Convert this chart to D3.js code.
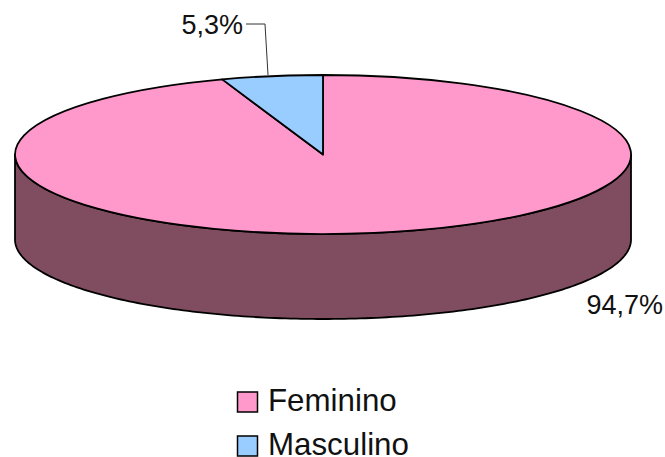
<!DOCTYPE html>
<html><head><meta charset="utf-8">
<script src="https://cdn.jsdelivr.net/npm/d3@7/dist/d3.min.js"></script>
<style>html,body{margin:0;padding:0;background:#fff}svg{display:block}text{font-family:"Liberation Sans",Arial,sans-serif;fill:#111}</style>
</head><body><script>
const categories = ["Feminino", "Masculino"];
const values = [94.7, 5.3];
const valueLabels = ["94,7%", "5,3%"];
const colors = ["#ff99cc", "#99ccff"];
const sideColor = "#804d60";

const W = 665, H = 457;
const cx = 323, cy = 154.5, rx = 308, ry = 79.5, depth = 85;
const svg = d3.select("body").append("svg").attr("width", W).attr("height", H);

const sx = d3.scaleLinear().domain([-1, 1]).range([cx - rx, cx + rx]);
const sy = d3.scaleLinear().domain([-1, 1]).range([cy - ry, cy + ry]);

// rim: the visible lower half of the disc, extruded downward
const rim = d3.range(0, 181, 1).map(d => (90 + d) * Math.PI / 180);
const side = d3.area()
  .x(a => sx(Math.sin(a)))
  .y0(a => sy(-Math.cos(a)))
  .y1(a => sy(-Math.cos(a)) + depth);
svg.append("path").datum(rim).attr("d", side)
  .attr("fill", sideColor).attr("stroke", "#000").attr("stroke-width", 1.8).attr("stroke-linejoin", "round");

const pie = d3.pie().sort(null).value(d => d);
const arc = d3.arc().innerRadius(0).outerRadius(1);
const disc = svg.append("g").attr("transform", `translate(${cx},${cy}) scale(${rx},${ry})`);
disc.selectAll("path").data(pie(values)).join("path")
  .attr("d", arc)
  .attr("fill", (d, i) => colors[i])
  .attr("stroke", "#000").attr("stroke-width", 1.8)
  .attr("stroke-linejoin", "round")
  .attr("vector-effect", "non-scaling-stroke");

// labels
svg.append("text").attr("x", 663).attr("y", 313.5).attr("text-anchor", "end")
  .attr("font-size", 27).text(valueLabels[0]);
svg.append("text").attr("x", 243).attr("y", 33.5).attr("text-anchor", "end")
  .attr("font-size", 27).text(valueLabels[1]);
svg.append("path").attr("d", d3.line()([[246, 24], [265, 24], [268, 75]]))
  .attr("fill", "none").attr("stroke", "#333").attr("stroke-width", 1);

// legend
const rowY = d3.scalePoint().domain(categories).range([402, 446]);
const legend = svg.selectAll("g.leg").data(categories).join("g").attr("class", "leg");
legend.append("rect").attr("x", 237.5).attr("y", d => rowY(d) - 10).attr("width", 20).attr("height", 20)
  .attr("fill", (d, i) => colors[i]).attr("stroke", "#000").attr("stroke-width", 1.5);
legend.append("text").attr("x", 268).attr("y", d => rowY(d) + 9)
  .attr("font-size", 31.3).text(d => d);
</script></body></html>
